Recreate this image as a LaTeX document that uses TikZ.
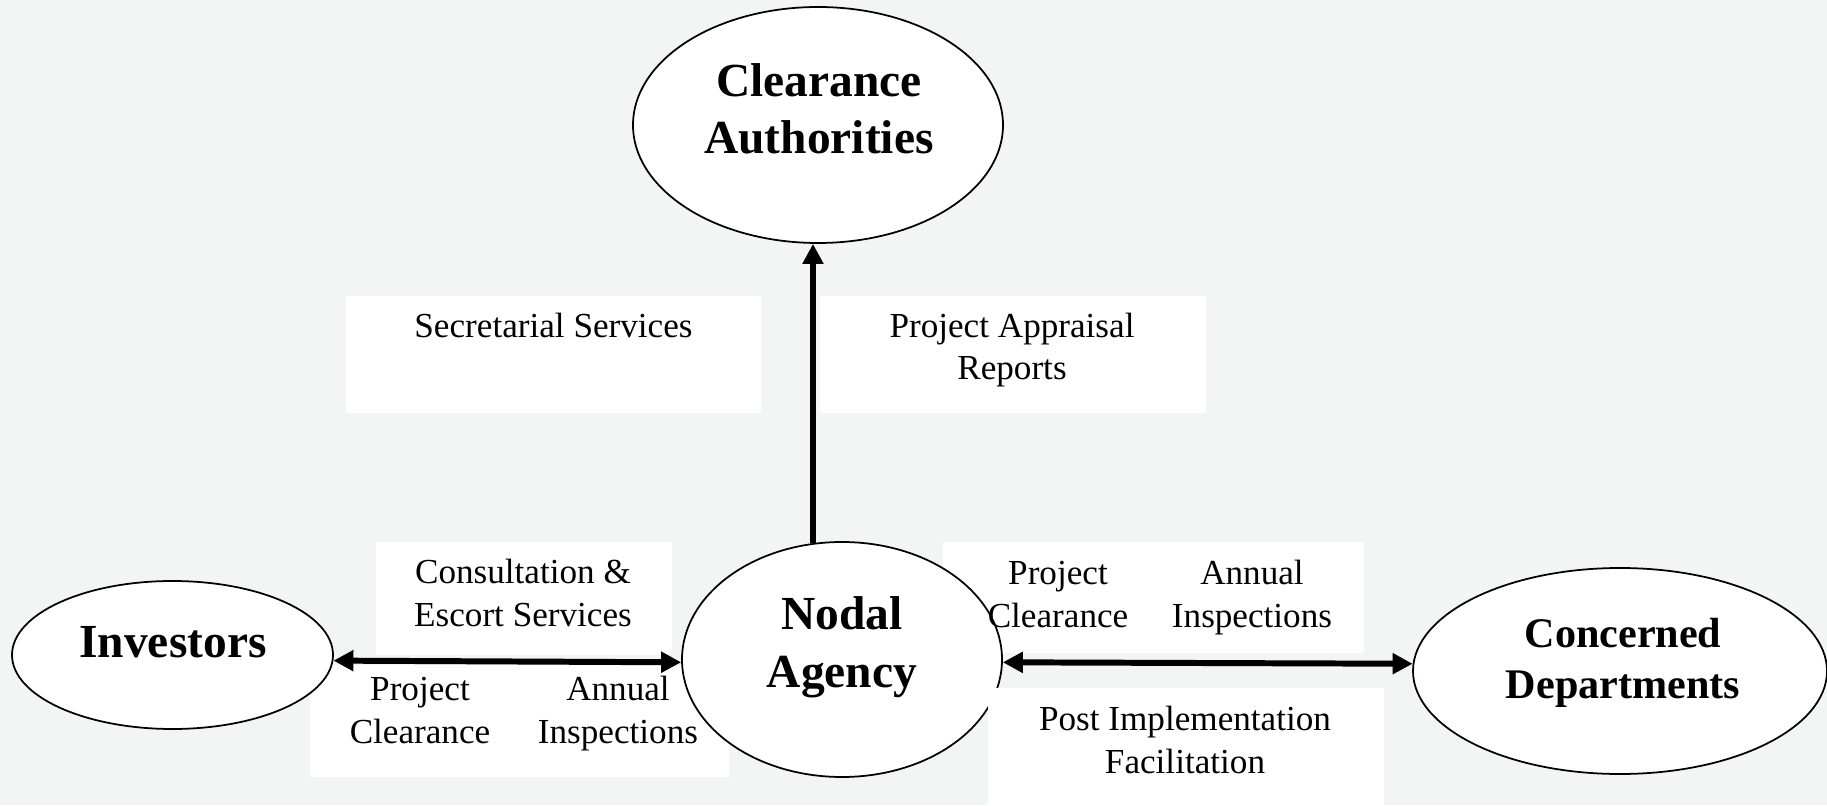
\documentclass[tikz,border=0pt]{standalone}
\usepackage{fontspec}
\setmainfont{Liberation Serif}
\usetikzlibrary{shapes}
\usetikzlibrary{positioning}
\usetikzlibrary{arrows.meta}
\definecolor{bggray}{RGB}{243,244,244}
\tikzset{
    myoval/.style = {ellipse, draw=black, line width=0.5pt, fill=white, inner sep=0pt},
    mybox/.style = {rectangle, fill=white, inner sep=0pt},
    mytext/.style = {align=center, inner sep=0pt, anchor=base, font=\fontsize{10}{12}\selectfont},
    mytitle/.style = {align=center, inner sep=0pt, anchor=base, font=\fontsize{13.5}{16.4}\selectfont\bfseries},
    edgen/.style = {{Triangle[length=5.7pt,width=5.7pt]}-{Triangle[length=5.7pt,width=5.7pt]}, line width=1.7pt, black},
    edgeu/.style = {-{Triangle[length=5.7pt,width=5.7pt]}, line width=1.7pt, black}
}

\begin{document}
\begin{tikzpicture}
\useasboundingbox (0,0) rectangle (18.27,8.05);
\fill[bggray] (0,0) rectangle (18.27,8.05);
% label boxes
\node[mybox, minimum width=4.15cm, minimum height=1.17cm] at (5.535, 4.505) (bsec) {};
\node[mybox, minimum width=3.86cm, minimum height=1.17cm] at (10.13, 4.505) (bapp) {};
\node[mybox, minimum width=2.96cm, minimum height=1.13cm] at (5.24, 2.065) (bcons) {};
\node[mybox, minimum width=4.19cm, minimum height=1.12cm] at (5.195, 0.84) (bpcl) {};
\node[mybox, minimum width=4.21cm, minimum height=1.11cm] at (11.535, 2.075) (bpcr) {};
% ovals
\node[myoval, minimum width=3.70cm, minimum height=2.36cm] at (8.18, 6.80) (ca) {};
\node[myoval, minimum width=3.20cm, minimum height=2.35cm] at (8.42, 1.455) (na) {};
\node[myoval, minimum width=3.21cm, minimum height=1.48cm] at (1.725, 1.50) (inv) {};
\node[myoval, minimum width=4.14cm, minimum height=2.06cm] at (16.20, 1.34) (cd) {};
\node[mybox, minimum width=3.96cm, minimum height=1.17cm] at (11.86, 0.585) (bpost) {};
% titles (base = last line)
\node[mytitle] at (8.19, 6.51) (tca) {Clearance\\Authorities};
\node[mytitle] at (8.42, 1.18) (tna) {Nodal\\Agency};
\node[mytitle] at (1.73, 1.48) (tinv) {Investors};
\node[mytitle, font=\fontsize{12}{14.5}\selectfont\bfseries] at (16.23, 1.07) (tcd) {Concerned\\Departments};
% labels
\node[mytext] at (5.535, 4.67) (lsec) {Secretarial Services};
\node[mytext] at (10.12, 4.25) (lapp) {Project Appraisal\\Reports};
\node[mytext] at (5.23, 1.79) (lcons) {Consultation \&\\Escort Services};
\node[mytext] at (4.20, 0.62) (lpcl) {Project\\Clearance};
\node[mytext] at (6.18, 0.62) (lail) {Annual\\Inspections};
\node[mytext] at (10.58, 1.78) (lpcr) {Project\\Clearance};
\node[mytext] at (12.52, 1.78) (lair) {Annual\\Inspections};
\node[mytext] at (11.85, 0.32) (lpost) {Post Implementation\\Facilitation};
% arrows
\draw[edgeu] (na.104) -- (na.104 |- ca.south);
\draw[edgen] (inv.-2.5) -- (na.181.6);
\draw[edgen] (na.-1.6) -- (cd.178);
\end{tikzpicture}
\end{document}
